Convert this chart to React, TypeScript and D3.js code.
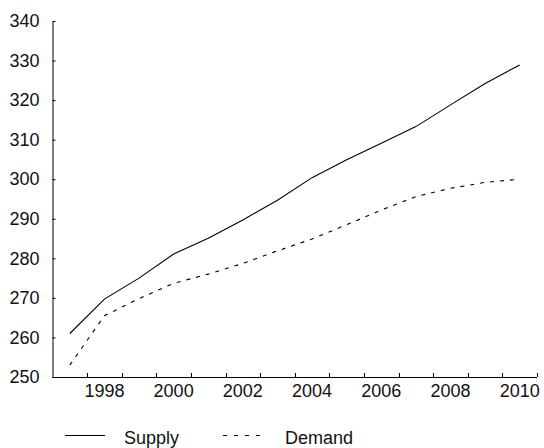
import React, { useRef, useEffect } from "react";
import * as d3 from "d3";

const years = [1997, 1998, 1999, 2000, 2001, 2002, 2003, 2004, 2005, 2006, 2007, 2008, 2009, 2010];
const supply = [261, 269.7, 275, 281.1, 285.1, 289.7, 294.7, 300.4, 304.9, 309.1, 313.3, 318.8, 324.2, 328.9];
const demand = [253, 265.5, 269.8, 273.7, 276, 278.7, 281.9, 284.9, 288.5, 292.2, 295.6, 297.7, 299.2, 300];
const yTicks = [250, 260, 270, 280, 290, 300, 310, 320, 330, 340];
const xLabels = [1998, 2000, 2002, 2004, 2006, 2008, 2010];
const seriesNames = ["Supply", "Demand"];

const App = () => {
  const ref = useRef<SVGSVGElement | null>(null);

  useEffect(() => {
    const width = 544;
    const height = 448;
    const margin = { top: 21, right: 7, bottom: 71, left: 52.5 };
    const font = "'Liberation Sans', Arial, sans-serif";

    const svg = d3.select(ref.current);
    svg.selectAll("*").remove();

    const x = d3
      .scaleBand<number>()
      .domain(years)
      .range([margin.left, width - margin.right])
      .padding(0);
    const y = d3
      .scaleLinear()
      .domain([250, 340])
      .range([height - margin.bottom, margin.top]);

    const cx = (yr: number) => (x(yr) as number) + x.bandwidth() / 2;

    // y axis, ticks pointing inward
    const gy = svg
      .append("g")
      .attr("transform", `translate(${margin.left},0)`)
      .call(d3.axisLeft(y).tickValues(yTicks).tickSize(-3).tickPadding(13).tickSizeOuter(0));
    gy.select(".domain").attr("stroke", "#000");
    gy.selectAll("line").attr("stroke", "#000");
    gy.selectAll("text").attr("font-size", 18).attr("font-family", font).attr("fill", "#111");

    // x axis: tick marks on category boundaries, labels at centres
    const base = height - margin.bottom;
    const gx = svg.append("g");
    gx.append("line")
      .attr("x1", margin.left)
      .attr("x2", width - margin.right)
      .attr("y1", base + 0.5)
      .attr("y2", base + 0.5)
      .attr("stroke", "#000");
    const bounds = years.map((yr) => (x(yr) as number) + x.bandwidth());
    gx.selectAll("line.tick")
      .data(bounds)
      .join("line")
      .attr("class", "tick")
      .attr("x1", (d) => Math.round(d) + 0.5)
      .attr("x2", (d) => Math.round(d) + 0.5)
      .attr("y1", base)
      .attr("y2", base - 4)
      .attr("stroke", "#000");
    gx.selectAll("text")
      .data(xLabels)
      .join("text")
      .attr("x", (d) => cx(d))
      .attr("y", base + 20)
      .attr("text-anchor", "middle")
      .attr("font-size", 18)
      .attr("font-family", font)
      .attr("fill", "#111")
      .text((d) => d);

    const line = d3
      .line<number>()
      .x((_, i) => cx(years[i]))
      .y((d) => y(d));

    svg.append("path")
      .attr("d", line(supply))
      .attr("fill", "none")
      .attr("stroke", "#000")
      .attr("stroke-width", 1.1);
    svg.append("path")
      .attr("d", line(demand))
      .attr("fill", "none")
      .attr("stroke", "#000")
      .attr("stroke-width", 1.1)
      .attr("stroke-dasharray", "4,6");

    // legend
    const legend = [
      { name: seriesNames[0], x1: 65, x2: 105, tx: 124, dash: null },
      { name: seriesNames[1], x1: 223, x2: 261, tx: 285, dash: "4,7" },
    ];
    const ly = 435.5;
    legend.forEach((l) => {
      svg.append("line")
        .attr("x1", l.x1)
        .attr("x2", l.x2)
        .attr("y1", ly)
        .attr("y2", ly)
        .attr("stroke", "#000")
        .attr("stroke-width", 1.1)
        .attr("stroke-dasharray", l.dash);
      svg.append("text")
        .attr("x", l.tx)
        .attr("y", 444)
        .attr("font-size", 18)
        .attr("font-family", font)
        .attr("fill", "#111")
        .text(l.name);
    });
  }, []);

  return (
    <svg
      ref={ref}
      width={544}
      height={448}
      style={{ position: "absolute", left: 0, top: 0, background: "#fff" }}
    />
  );
};

export default App;
